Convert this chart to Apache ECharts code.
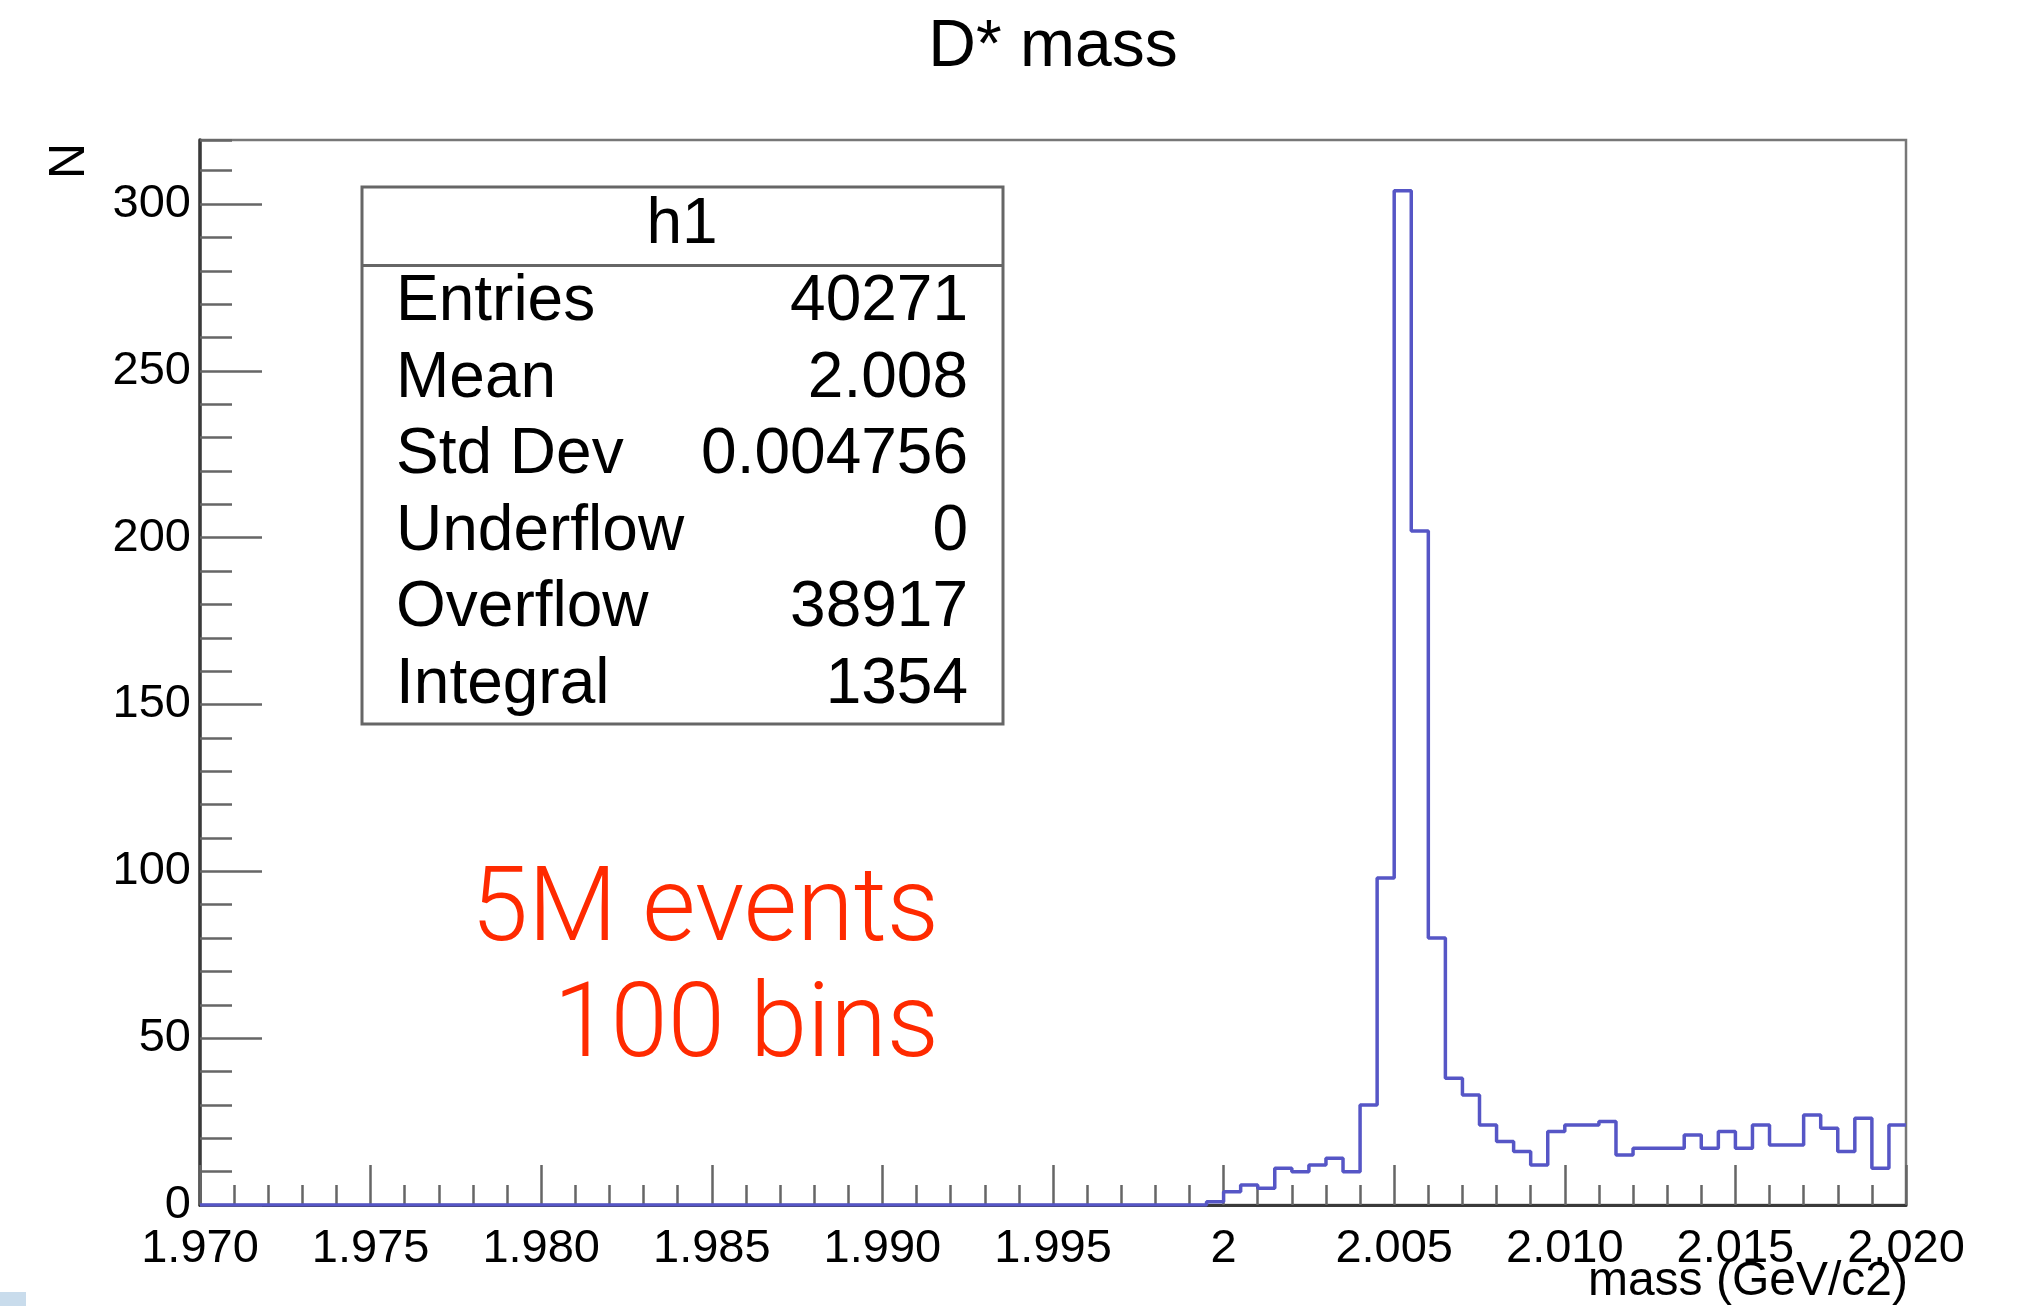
<!DOCTYPE html>
<html>
<head>
<meta charset="utf-8">
<script src="https://cdn.jsdelivr.net/npm/echarts@6/dist/echarts.min.js"></script>
<style>
html,body{margin:0;padding:0;background:#fff;}
#chart{width:2028px;height:1306px;}
</style>
</head>
<body>
<div id="chart"></div>
<script>
// ---- data ----
const chartTitle = 'D* mass';
const xTitle = 'mass (GeV/c2)';
const yTitle = 'N';
const binLow = 1.970;
const binWidth = 0.0005;
// 100 bins, 1.970 .. 2.020
const counts = [
  0,0,0,0,0,0,0,0,0,0,
  0,0,0,0,0,0,0,0,0,0,
  0,0,0,0,0,0,0,0,0,0,
  0,0,0,0,0,0,0,0,0,0,
  0,0,0,0,0,0,0,0,0,0,
  0,0,0,0,0,0,0,0,0,1,
  4,6,5,11,10,12,14,10,30,98,
  304,202,80,38,33,24,19,16,12,22,
  24,24,25,15,17,17,17,21,17,22,
  17,24,18,18,27,23,16,26,11,24
];
const xTickLabels = ['1.970','1.975','1.980','1.985','1.990','1.995','2','2.005','2.010','2.015','2.020'];
const yTickLabels = ['0','50','100','150','200','250','300'];
const statsTitle = 'h1';
const statsNames = ['Entries','Mean','Std Dev','Underflow','Overflow','Integral'];
const statsValues = ['40271','2.008','0.004756','0','38917','1354'];
const noteLines = ['5M events','100 bins'];

// ---- build ----
const FONT = '"Liberation Sans", Arial, Helvetica, sans-serif';
const histData = counts.map((c, i) => [+(binLow + i * binWidth).toFixed(4), c]);
histData.push([+(binLow + counts.length * binWidth).toFixed(4), counts[counts.length - 1]]);

const xMin = 1.970, xMax = 2.020, xStep = 0.005;
const yMax = 319.2;

const tickStyle = { color: '#666', width: 2.5 };

function txt(x, y, text, size, align, extra) {
  return Object.assign({
    type: 'text', x: x, y: y, z: 20,
    style: {
      text: text, fontSize: size, fontFamily: FONT, fill: '#000',
      align: align, textAlign: align, verticalAlign: 'middle', textVerticalAlign: 'middle'
    }
  }, extra || {});
}

const statsChildren = [
  { type: 'rect', shape: { x: 362, y: 187, width: 641, height: 537 },
    style: { fill: '#fff', stroke: '#666', lineWidth: 3 }, z: 15 },
  { type: 'line', shape: { x1: 362, y1: 265.5, x2: 1003, y2: 265.5 },
    style: { stroke: '#666', lineWidth: 3 }, z: 16 },
  txt(682, 225, statsTitle, 64, 'center')
];
statsNames.forEach((n, i) => {
  const y = 302.5 + i * 76.5;
  statsChildren.push(txt(396, y, n, 64, 'left'));
  statsChildren.push(txt(968, y, statsValues[i], 64, 'right'));
});

const chart = echarts.init(document.getElementById('chart'), null, { renderer: 'canvas' });
chart.setOption({
  animation: false,
  backgroundColor: '#fff',
  grid: {
    left: 200, top: 140, width: 1706, height: 1065,
    show: true, borderColor: '#777', borderWidth: 2.5,
    containLabel: false, outerBoundsMode: 'none'
  },
  xAxis: [{
    type: 'value', min: xMin, max: xMax, interval: xStep, position: 'bottom',
    axisLine: { show: true, onZero: false, lineStyle: { color: '#3a3a3a', width: 3 } },
    axisTick: { show: true, inside: true, length: 40, lineStyle: tickStyle },
    minorTick: { show: true, splitNumber: 5, length: 20, lineStyle: tickStyle },
    axisLabel: {
      show: true, margin: 21, fontSize: 47, fontFamily: FONT, color: '#000',
      showMinLabel: true, showMaxLabel: true,
      formatter: (v) => {
        const k = Math.round((v - xMin) / xStep);
        return xTickLabels[k] !== undefined ? xTickLabels[k] : '';
      }
    },
    splitLine: { show: false }, minorSplitLine: { show: false }
  }],
  yAxis: [{
    type: 'value', min: 0, max: yMax, interval: 50, position: 'left',
    axisLine: { show: true, onZero: false, lineStyle: { color: '#3a3a3a', width: 3.5 } },
    axisTick: { show: true, inside: true, length: 62, lineStyle: tickStyle },
    axisLabel: {
      show: true, margin: 9, fontSize: 47, fontFamily: FONT, color: '#000',
      showMinLabel: true, showMaxLabel: false,
      formatter: (v) => {
        const k = Math.round(v / 50);
        return (Math.abs(v - k * 50) < 1e-6 && yTickLabels[k] !== undefined) ? yTickLabels[k] : '';
      }
    },
    splitLine: { show: false }
  }, {
    type: 'value', min: 0, max: yMax, interval: 10, position: 'left', offset: 0,
    axisLine: { show: false },
    axisTick: { show: true, inside: true, length: 32, lineStyle: tickStyle },
    axisLabel: { show: false },
    splitLine: { show: false }
  }],
  series: [{
    type: 'line', xAxisIndex: 0, yAxisIndex: 0,
    data: histData, step: 'end',
    showSymbol: false, symbol: 'none',
    lineStyle: { color: '#5656c6', width: 3.5 },
    itemStyle: { color: '#5656c6' },
    z: 5
  }],
  graphic: [
    txt(1053, 47.5, chartTitle, 66, 'center'),
    txt(70, 143, yTitle, 50, 'right', { rotation: Math.PI / 2 }),
    txt(1908, 1282, xTitle, 48, 'right'),
    { type: 'group', children: statsChildren },
    {
      type: 'text', x: 939, y: 914, z: 20,
      style: { text: noteLines[0], fontSize: 103, fontFamily: 'Roboto, "Liberation Sans", sans-serif', fontWeight: 300,
        fill: '#ff2a00', align: 'right', textAlign: 'right', verticalAlign: 'middle', textVerticalAlign: 'middle' }
    },
    {
      type: 'text', x: 939, y: 1030, z: 20,
      style: { text: noteLines[1], fontSize: 103, fontFamily: 'Roboto, "Liberation Sans", sans-serif', fontWeight: 300,
        fill: '#ff2a00', align: 'right', textAlign: 'right', verticalAlign: 'middle', textVerticalAlign: 'middle' }
    },
    { type: 'rect', shape: { x: 0, y: 1292, width: 26, height: 14 }, style: { fill: '#c9dcec' }, z: 1 }
  ]
});
</script>
</body>
</html>
